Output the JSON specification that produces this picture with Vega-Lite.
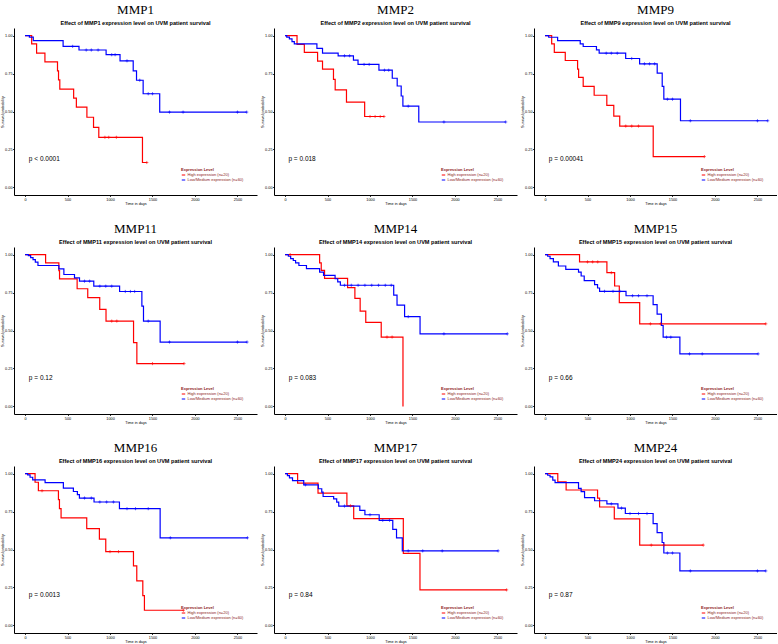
{
"$schema": "https://vega.github.io/schema/vega-lite/v6.json",
"padding": {"left": 0, "top": 4, "right": 0, "bottom": 0},
"background": "white",
"data": {"values": [
{"g":"MMP1","k":"c","e":"H","t":0,"s":1},{"g":"MMP1","k":"c","e":"H","t":78,"s":0.945},{"g":"MMP1","k":"c","e":"H","t":136,"s":0.885},{"g":"MMP1","k":"c","e":"H","t":234,"s":0.827},{"g":"MMP1","k":"c","e":"H","t":382,"s":0.768},{"g":"MMP1","k":"c","e":"H","t":394,"s":0.708},{"g":"MMP1","k":"c","e":"H","t":409,"s":0.648},{"g":"MMP1","k":"c","e":"H","t":572,"s":0.588},{"g":"MMP1","k":"c","e":"H","t":604,"s":0.529},{"g":"MMP1","k":"c","e":"H","t":728,"s":0.462},{"g":"MMP1","k":"c","e":"H","t":806,"s":0.396},{"g":"MMP1","k":"c","e":"H","t":868,"s":0.33},{"g":"MMP1","k":"c","e":"H","t":1382,"s":0.164},{"g":"MMP1","k":"c","e":"H","t":1433,"s":0.164},
{"g":"MMP1","k":"c","e":"L","t":0,"s":1},{"g":"MMP1","k":"c","e":"L","t":51,"s":0.99},{"g":"MMP1","k":"c","e":"L","t":97,"s":0.967},{"g":"MMP1","k":"c","e":"L","t":448,"s":0.929},{"g":"MMP1","k":"c","e":"L","t":635,"s":0.905},{"g":"MMP1","k":"c","e":"L","t":954,"s":0.874},{"g":"MMP1","k":"c","e":"L","t":1118,"s":0.834},{"g":"MMP1","k":"c","e":"L","t":1273,"s":0.768},{"g":"MMP1","k":"c","e":"L","t":1312,"s":0.706},{"g":"MMP1","k":"c","e":"L","t":1390,"s":0.617},{"g":"MMP1","k":"c","e":"L","t":1585,"s":0.496},{"g":"MMP1","k":"c","e":"L","t":2609,"s":0.496},
{"g":"MMP2","k":"c","e":"H","t":0,"s":1},{"g":"MMP2","k":"c","e":"H","t":141,"s":0.942},{"g":"MMP2","k":"c","e":"H","t":227,"s":0.889},{"g":"MMP2","k":"c","e":"H","t":383,"s":0.832},{"g":"MMP2","k":"c","e":"H","t":441,"s":0.779},{"g":"MMP2","k":"c","e":"H","t":570,"s":0.712},{"g":"MMP2","k":"c","e":"H","t":590,"s":0.642},{"g":"MMP2","k":"c","e":"H","t":723,"s":0.562},{"g":"MMP2","k":"c","e":"H","t":937,"s":0.467},{"g":"MMP2","k":"c","e":"H","t":1164,"s":0.467},
{"g":"MMP2","k":"c","e":"L","t":0,"s":1},{"g":"MMP2","k":"c","e":"L","t":20,"s":0.99},{"g":"MMP2","k":"c","e":"L","t":51,"s":0.978},{"g":"MMP2","k":"c","e":"L","t":82,"s":0.96},{"g":"MMP2","k":"c","e":"L","t":109,"s":0.945},{"g":"MMP2","k":"c","e":"L","t":375,"s":0.916},{"g":"MMP2","k":"c","e":"L","t":441,"s":0.885},{"g":"MMP2","k":"c","e":"L","t":625,"s":0.867},{"g":"MMP2","k":"c","e":"L","t":805,"s":0.838},{"g":"MMP2","k":"c","e":"L","t":859,"s":0.81},{"g":"MMP2","k":"c","e":"L","t":1105,"s":0.772},{"g":"MMP2","k":"c","e":"L","t":1262,"s":0.719},{"g":"MMP2","k":"c","e":"L","t":1320,"s":0.668},{"g":"MMP2","k":"c","e":"L","t":1367,"s":0.602},{"g":"MMP2","k":"c","e":"L","t":1387,"s":0.535},{"g":"MMP2","k":"c","e":"L","t":1574,"s":0.431},{"g":"MMP2","k":"c","e":"L","t":2597,"s":0.431},
{"g":"MMP9","k":"c","e":"H","t":0,"s":1},{"g":"MMP9","k":"c","e":"H","t":78,"s":0.945},{"g":"MMP9","k":"c","e":"H","t":109,"s":0.889},{"g":"MMP9","k":"c","e":"H","t":238,"s":0.836},{"g":"MMP9","k":"c","e":"H","t":383,"s":0.779},{"g":"MMP9","k":"c","e":"H","t":395,"s":0.725},{"g":"MMP9","k":"c","e":"H","t":449,"s":0.666},{"g":"MMP9","k":"c","e":"H","t":578,"s":0.607},{"g":"MMP9","k":"c","e":"H","t":727,"s":0.541},{"g":"MMP9","k":"c","e":"H","t":809,"s":0.469},{"g":"MMP9","k":"c","e":"H","t":879,"s":0.404},{"g":"MMP9","k":"c","e":"H","t":1273,"s":0.203},{"g":"MMP9","k":"c","e":"H","t":1875,"s":0.203},
{"g":"MMP9","k":"c","e":"L","t":0,"s":1},{"g":"MMP9","k":"c","e":"L","t":43,"s":0.989},{"g":"MMP9","k":"c","e":"L","t":148,"s":0.967},{"g":"MMP9","k":"c","e":"L","t":414,"s":0.945},{"g":"MMP9","k":"c","e":"L","t":449,"s":0.928},{"g":"MMP9","k":"c","e":"L","t":605,"s":0.906},{"g":"MMP9","k":"c","e":"L","t":637,"s":0.884},{"g":"MMP9","k":"c","e":"L","t":949,"s":0.849},{"g":"MMP9","k":"c","e":"L","t":1113,"s":0.814},{"g":"MMP9","k":"c","e":"L","t":1320,"s":0.753},{"g":"MMP9","k":"c","e":"L","t":1379,"s":0.666},{"g":"MMP9","k":"c","e":"L","t":1398,"s":0.581},{"g":"MMP9","k":"c","e":"L","t":1594,"s":0.439},{"g":"MMP9","k":"c","e":"L","t":2621,"s":0.439},
{"g":"MMP11","k":"c","e":"H","t":0,"s":1},{"g":"MMP11","k":"c","e":"H","t":242,"s":0.945},{"g":"MMP11","k":"c","e":"H","t":398,"s":0.895},{"g":"MMP11","k":"c","e":"H","t":406,"s":0.84},{"g":"MMP11","k":"c","e":"H","t":613,"s":0.775},{"g":"MMP11","k":"c","e":"H","t":738,"s":0.716},{"g":"MMP11","k":"c","e":"H","t":879,"s":0.639},{"g":"MMP11","k":"c","e":"H","t":953,"s":0.562},{"g":"MMP11","k":"c","e":"H","t":1277,"s":0.42},{"g":"MMP11","k":"c","e":"H","t":1316,"s":0.282},{"g":"MMP11","k":"c","e":"H","t":1871,"s":0.282},
{"g":"MMP11","k":"c","e":"L","t":0,"s":1},{"g":"MMP11","k":"c","e":"L","t":39,"s":0.993},{"g":"MMP11","k":"c","e":"L","t":66,"s":0.98},{"g":"MMP11","k":"c","e":"L","t":94,"s":0.967},{"g":"MMP11","k":"c","e":"L","t":121,"s":0.95},{"g":"MMP11","k":"c","e":"L","t":152,"s":0.928},{"g":"MMP11","k":"c","e":"L","t":398,"s":0.906},{"g":"MMP11","k":"c","e":"L","t":457,"s":0.869},{"g":"MMP11","k":"c","e":"L","t":582,"s":0.847},{"g":"MMP11","k":"c","e":"L","t":641,"s":0.825},{"g":"MMP11","k":"c","e":"L","t":809,"s":0.792},{"g":"MMP11","k":"c","e":"L","t":1113,"s":0.757},{"g":"MMP11","k":"c","e":"L","t":1375,"s":0.661},{"g":"MMP11","k":"c","e":"L","t":1394,"s":0.562},{"g":"MMP11","k":"c","e":"L","t":1590,"s":0.424},{"g":"MMP11","k":"c","e":"L","t":2613,"s":0.424},
{"g":"MMP14","k":"c","e":"H","t":0,"s":1},{"g":"MMP14","k":"c","e":"H","t":407,"s":0.946},{"g":"MMP14","k":"c","e":"H","t":426,"s":0.896},{"g":"MMP14","k":"c","e":"H","t":465,"s":0.843},{"g":"MMP14","k":"c","e":"H","t":736,"s":0.783},{"g":"MMP14","k":"c","e":"H","t":822,"s":0.711},{"g":"MMP14","k":"c","e":"H","t":884,"s":0.628},{"g":"MMP14","k":"c","e":"H","t":950,"s":0.554},{"g":"MMP14","k":"c","e":"H","t":1132,"s":0.457},{"g":"MMP14","k":"c","e":"H","t":1388,"s":0},
{"g":"MMP14","k":"c","e":"L","t":0,"s":1},{"g":"MMP14","k":"c","e":"L","t":39,"s":0.989},{"g":"MMP14","k":"c","e":"L","t":66,"s":0.974},{"g":"MMP14","k":"c","e":"L","t":97,"s":0.961},{"g":"MMP14","k":"c","e":"L","t":124,"s":0.946},{"g":"MMP14","k":"c","e":"L","t":163,"s":0.928},{"g":"MMP14","k":"c","e":"L","t":252,"s":0.907},{"g":"MMP14","k":"c","e":"L","t":407,"s":0.885},{"g":"MMP14","k":"c","e":"L","t":453,"s":0.863},{"g":"MMP14","k":"c","e":"L","t":589,"s":0.841},{"g":"MMP14","k":"c","e":"L","t":620,"s":0.82},{"g":"MMP14","k":"c","e":"L","t":651,"s":0.798},{"g":"MMP14","k":"c","e":"L","t":1279,"s":0.733},{"g":"MMP14","k":"c","e":"L","t":1318,"s":0.667},{"g":"MMP14","k":"c","e":"L","t":1407,"s":0.591},{"g":"MMP14","k":"c","e":"L","t":1589,"s":0.478},{"g":"MMP14","k":"c","e":"L","t":2616,"s":0.478},
{"g":"MMP15","k":"c","e":"H","t":0,"s":1},{"g":"MMP15","k":"c","e":"H","t":406,"s":0.952},{"g":"MMP15","k":"c","e":"H","t":728,"s":0.881},{"g":"MMP15","k":"c","e":"H","t":819,"s":0.793},{"g":"MMP15","k":"c","e":"H","t":874,"s":0.683},{"g":"MMP15","k":"c","e":"H","t":1114,"s":0.544},{"g":"MMP15","k":"c","e":"H","t":2598,"s":0.544},
{"g":"MMP15","k":"c","e":"L","t":0,"s":1},{"g":"MMP15","k":"c","e":"L","t":31,"s":0.989},{"g":"MMP15","k":"c","e":"L","t":59,"s":0.974},{"g":"MMP15","k":"c","e":"L","t":98,"s":0.952},{"g":"MMP15","k":"c","e":"L","t":157,"s":0.925},{"g":"MMP15","k":"c","e":"L","t":244,"s":0.903},{"g":"MMP15","k":"c","e":"L","t":394,"s":0.885},{"g":"MMP15","k":"c","e":"L","t":425,"s":0.859},{"g":"MMP15","k":"c","e":"L","t":461,"s":0.828},{"g":"MMP15","k":"c","e":"L","t":583,"s":0.802},{"g":"MMP15","k":"c","e":"L","t":618,"s":0.78},{"g":"MMP15","k":"c","e":"L","t":642,"s":0.758},{"g":"MMP15","k":"c","e":"L","t":953,"s":0.729},{"g":"MMP15","k":"c","e":"L","t":1272,"s":0.67},{"g":"MMP15","k":"c","e":"L","t":1319,"s":0.608},{"g":"MMP15","k":"c","e":"L","t":1370,"s":0.533},{"g":"MMP15","k":"c","e":"L","t":1390,"s":0.456},{"g":"MMP15","k":"c","e":"L","t":1587,"s":0.346},{"g":"MMP15","k":"c","e":"L","t":2508,"s":0.346},
{"g":"MMP16","k":"c","e":"H","t":0,"s":1},{"g":"MMP16","k":"c","e":"H","t":118,"s":0.943},{"g":"MMP16","k":"c","e":"H","t":157,"s":0.887},{"g":"MMP16","k":"c","e":"H","t":393,"s":0.828},{"g":"MMP16","k":"c","e":"H","t":405,"s":0.769},{"g":"MMP16","k":"c","e":"H","t":424,"s":0.708},{"g":"MMP16","k":"c","e":"H","t":726,"s":0.638},{"g":"MMP16","k":"c","e":"H","t":875,"s":0.569},{"g":"MMP16","k":"c","e":"H","t":950,"s":0.486},{"g":"MMP16","k":"c","e":"H","t":1276,"s":0.392},{"g":"MMP16","k":"c","e":"H","t":1315,"s":0.294},{"g":"MMP16","k":"c","e":"H","t":1386,"s":0.196},{"g":"MMP16","k":"c","e":"H","t":1405,"s":0.1},{"g":"MMP16","k":"c","e":"H","t":1864,"s":0.1},
{"g":"MMP16","k":"c","e":"L","t":0,"s":1},{"g":"MMP16","k":"c","e":"L","t":31,"s":0.991},{"g":"MMP16","k":"c","e":"L","t":59,"s":0.976},{"g":"MMP16","k":"c","e":"L","t":90,"s":0.959},{"g":"MMP16","k":"c","e":"L","t":236,"s":0.941},{"g":"MMP16","k":"c","e":"L","t":451,"s":0.904},{"g":"MMP16","k":"c","e":"L","t":569,"s":0.882},{"g":"MMP16","k":"c","e":"L","t":616,"s":0.861},{"g":"MMP16","k":"c","e":"L","t":640,"s":0.839},{"g":"MMP16","k":"c","e":"L","t":812,"s":0.813},{"g":"MMP16","k":"c","e":"L","t":1111,"s":0.769},{"g":"MMP16","k":"c","e":"L","t":1590,"s":0.577},{"g":"MMP16","k":"c","e":"L","t":2618,"s":0.577},
{"g":"MMP17","k":"c","e":"H","t":0,"s":1},{"g":"MMP17","k":"c","e":"H","t":148,"s":0.937},{"g":"MMP17","k":"c","e":"H","t":388,"s":0.871},{"g":"MMP17","k":"c","e":"H","t":728,"s":0.788},{"g":"MMP17","k":"c","e":"H","t":808,"s":0.703},{"g":"MMP17","k":"c","e":"H","t":1392,"s":0.474},{"g":"MMP17","k":"c","e":"H","t":1588,"s":0.234},{"g":"MMP17","k":"c","e":"H","t":2608,"s":0.234},
{"g":"MMP17","k":"c","e":"L","t":0,"s":1},{"g":"MMP17","k":"c","e":"L","t":28,"s":0.987},{"g":"MMP17","k":"c","e":"L","t":52,"s":0.972},{"g":"MMP17","k":"c","e":"L","t":88,"s":0.954},{"g":"MMP17","k":"c","e":"L","t":220,"s":0.926},{"g":"MMP17","k":"c","e":"L","t":392,"s":0.9},{"g":"MMP17","k":"c","e":"L","t":432,"s":0.878},{"g":"MMP17","k":"c","e":"L","t":448,"s":0.849},{"g":"MMP17","k":"c","e":"L","t":572,"s":0.834},{"g":"MMP17","k":"c","e":"L","t":608,"s":0.812},{"g":"MMP17","k":"c","e":"L","t":632,"s":0.786},{"g":"MMP17","k":"c","e":"L","t":880,"s":0.758},{"g":"MMP17","k":"c","e":"L","t":940,"s":0.729},{"g":"MMP17","k":"c","e":"L","t":1108,"s":0.692},{"g":"MMP17","k":"c","e":"L","t":1268,"s":0.633},{"g":"MMP17","k":"c","e":"L","t":1312,"s":0.576},{"g":"MMP17","k":"c","e":"L","t":1380,"s":0.491},{"g":"MMP17","k":"c","e":"L","t":2508,"s":0.491},
{"g":"MMP24","k":"c","e":"H","t":0,"s":1},{"g":"MMP24","k":"c","e":"H","t":150,"s":0.946},{"g":"MMP24","k":"c","e":"H","t":248,"s":0.892},{"g":"MMP24","k":"c","e":"H","t":618,"s":0.838},{"g":"MMP24","k":"c","e":"H","t":642,"s":0.78},{"g":"MMP24","k":"c","e":"H","t":815,"s":0.702},{"g":"MMP24","k":"c","e":"H","t":1114,"s":0.529},{"g":"MMP24","k":"c","e":"H","t":1862,"s":0.529},
{"g":"MMP24","k":"c","e":"L","t":0,"s":1},{"g":"MMP24","k":"c","e":"L","t":31,"s":0.989},{"g":"MMP24","k":"c","e":"L","t":59,"s":0.978},{"g":"MMP24","k":"c","e":"L","t":91,"s":0.957},{"g":"MMP24","k":"c","e":"L","t":118,"s":0.94},{"g":"MMP24","k":"c","e":"L","t":394,"s":0.903},{"g":"MMP24","k":"c","e":"L","t":425,"s":0.881},{"g":"MMP24","k":"c","e":"L","t":465,"s":0.842},{"g":"MMP24","k":"c","e":"L","t":583,"s":0.821},{"g":"MMP24","k":"c","e":"L","t":728,"s":0.801},{"g":"MMP24","k":"c","e":"L","t":858,"s":0.773},{"g":"MMP24","k":"c","e":"L","t":945,"s":0.737},{"g":"MMP24","k":"c","e":"L","t":1272,"s":0.67},{"g":"MMP24","k":"c","e":"L","t":1319,"s":0.611},{"g":"MMP24","k":"c","e":"L","t":1378,"s":0.546},{"g":"MMP24","k":"c","e":"L","t":1398,"s":0.477},{"g":"MMP24","k":"c","e":"L","t":1587,"s":0.359},{"g":"MMP24","k":"c","e":"L","t":2598,"s":0.359},
{"g":"MMP1","k":"x","e":"H","t":940,"s":0.33},{"g":"MMP1","k":"x","e":"H","t":985,"s":0.33},{"g":"MMP1","k":"x","e":"H","t":1075,"s":0.33},{"g":"MMP1","k":"x","e":"H","t":1433,"s":0.164},
{"g":"MMP1","k":"x","e":"L","t":560,"s":0.929},{"g":"MMP1","k":"x","e":"L","t":720,"s":0.905},{"g":"MMP1","k":"x","e":"L","t":780,"s":0.905},{"g":"MMP1","k":"x","e":"L","t":860,"s":0.905},{"g":"MMP1","k":"x","e":"L","t":1020,"s":0.874},{"g":"MMP1","k":"x","e":"L","t":1060,"s":0.874},{"g":"MMP1","k":"x","e":"L","t":1200,"s":0.834},{"g":"MMP1","k":"x","e":"L","t":1350,"s":0.706},{"g":"MMP1","k":"x","e":"L","t":1450,"s":0.617},{"g":"MMP1","k":"x","e":"L","t":1500,"s":0.617},{"g":"MMP1","k":"x","e":"L","t":1700,"s":0.496},{"g":"MMP1","k":"x","e":"L","t":1860,"s":0.496},{"g":"MMP1","k":"x","e":"L","t":2500,"s":0.496},{"g":"MMP1","k":"x","e":"L","t":2609,"s":0.496},
{"g":"MMP2","k":"x","e":"H","t":1000,"s":0.467},{"g":"MMP2","k":"x","e":"H","t":1060,"s":0.467},{"g":"MMP2","k":"x","e":"H","t":1120,"s":0.467},{"g":"MMP2","k":"x","e":"H","t":1164,"s":0.467},
{"g":"MMP2","k":"x","e":"L","t":700,"s":0.867},{"g":"MMP2","k":"x","e":"L","t":760,"s":0.867},{"g":"MMP2","k":"x","e":"L","t":930,"s":0.81},{"g":"MMP2","k":"x","e":"L","t":990,"s":0.81},{"g":"MMP2","k":"x","e":"L","t":1170,"s":0.772},{"g":"MMP2","k":"x","e":"L","t":1220,"s":0.772},{"g":"MMP2","k":"x","e":"L","t":1450,"s":0.535},{"g":"MMP2","k":"x","e":"L","t":1870,"s":0.431},{"g":"MMP2","k":"x","e":"L","t":2597,"s":0.431},
{"g":"MMP9","k":"x","e":"H","t":950,"s":0.404},{"g":"MMP9","k":"x","e":"H","t":1020,"s":0.404},{"g":"MMP9","k":"x","e":"H","t":1100,"s":0.404},{"g":"MMP9","k":"x","e":"H","t":1875,"s":0.203},
{"g":"MMP9","k":"x","e":"L","t":720,"s":0.884},{"g":"MMP9","k":"x","e":"L","t":780,"s":0.884},{"g":"MMP9","k":"x","e":"L","t":850,"s":0.884},{"g":"MMP9","k":"x","e":"L","t":1020,"s":0.849},{"g":"MMP9","k":"x","e":"L","t":1170,"s":0.814},{"g":"MMP9","k":"x","e":"L","t":1230,"s":0.814},{"g":"MMP9","k":"x","e":"L","t":1290,"s":0.814},{"g":"MMP9","k":"x","e":"L","t":1440,"s":0.581},{"g":"MMP9","k":"x","e":"L","t":1500,"s":0.581},{"g":"MMP9","k":"x","e":"L","t":1710,"s":0.439},{"g":"MMP9","k":"x","e":"L","t":2500,"s":0.439},{"g":"MMP9","k":"x","e":"L","t":2621,"s":0.439},
{"g":"MMP11","k":"x","e":"H","t":1020,"s":0.562},{"g":"MMP11","k":"x","e":"H","t":1080,"s":0.562},{"g":"MMP11","k":"x","e":"H","t":1500,"s":0.282},{"g":"MMP11","k":"x","e":"H","t":1871,"s":0.282},
{"g":"MMP11","k":"x","e":"L","t":700,"s":0.825},{"g":"MMP11","k":"x","e":"L","t":760,"s":0.825},{"g":"MMP11","k":"x","e":"L","t":880,"s":0.792},{"g":"MMP11","k":"x","e":"L","t":950,"s":0.792},{"g":"MMP11","k":"x","e":"L","t":1020,"s":0.792},{"g":"MMP11","k":"x","e":"L","t":1180,"s":0.757},{"g":"MMP11","k":"x","e":"L","t":1240,"s":0.757},{"g":"MMP11","k":"x","e":"L","t":1290,"s":0.757},{"g":"MMP11","k":"x","e":"L","t":1450,"s":0.562},{"g":"MMP11","k":"x","e":"L","t":1700,"s":0.424},{"g":"MMP11","k":"x","e":"L","t":2500,"s":0.424},{"g":"MMP11","k":"x","e":"L","t":2613,"s":0.424},
{"g":"MMP14","k":"x","e":"H","t":60,"s":1},{"g":"MMP14","k":"x","e":"H","t":1200,"s":0.457},{"g":"MMP14","k":"x","e":"H","t":1260,"s":0.457},
{"g":"MMP14","k":"x","e":"L","t":700,"s":0.798},{"g":"MMP14","k":"x","e":"L","t":780,"s":0.798},{"g":"MMP14","k":"x","e":"L","t":860,"s":0.798},{"g":"MMP14","k":"x","e":"L","t":940,"s":0.798},{"g":"MMP14","k":"x","e":"L","t":1020,"s":0.798},{"g":"MMP14","k":"x","e":"L","t":1100,"s":0.798},{"g":"MMP14","k":"x","e":"L","t":1180,"s":0.798},{"g":"MMP14","k":"x","e":"L","t":1250,"s":0.798},{"g":"MMP14","k":"x","e":"L","t":1450,"s":0.591},{"g":"MMP14","k":"x","e":"L","t":1870,"s":0.478},{"g":"MMP14","k":"x","e":"L","t":2616,"s":0.478},
{"g":"MMP15","k":"x","e":"H","t":500,"s":0.952},{"g":"MMP15","k":"x","e":"H","t":560,"s":0.952},{"g":"MMP15","k":"x","e":"H","t":620,"s":0.952},{"g":"MMP15","k":"x","e":"H","t":780,"s":0.881},{"g":"MMP15","k":"x","e":"H","t":1240,"s":0.544},{"g":"MMP15","k":"x","e":"H","t":1360,"s":0.544},{"g":"MMP15","k":"x","e":"H","t":2598,"s":0.544},
{"g":"MMP15","k":"x","e":"L","t":700,"s":0.758},{"g":"MMP15","k":"x","e":"L","t":800,"s":0.758},{"g":"MMP15","k":"x","e":"L","t":880,"s":0.758},{"g":"MMP15","k":"x","e":"L","t":1030,"s":0.729},{"g":"MMP15","k":"x","e":"L","t":1100,"s":0.729},{"g":"MMP15","k":"x","e":"L","t":1200,"s":0.729},{"g":"MMP15","k":"x","e":"L","t":1430,"s":0.456},{"g":"MMP15","k":"x","e":"L","t":1480,"s":0.456},{"g":"MMP15","k":"x","e":"L","t":1700,"s":0.346},{"g":"MMP15","k":"x","e":"L","t":1850,"s":0.346},{"g":"MMP15","k":"x","e":"L","t":2508,"s":0.346},
{"g":"MMP16","k":"x","e":"H","t":200,"s":0.887},{"g":"MMP16","k":"x","e":"H","t":1000,"s":0.486},{"g":"MMP16","k":"x","e":"H","t":1100,"s":0.486},{"g":"MMP16","k":"x","e":"H","t":1864,"s":0.1},
{"g":"MMP16","k":"x","e":"L","t":700,"s":0.839},{"g":"MMP16","k":"x","e":"L","t":780,"s":0.839},{"g":"MMP16","k":"x","e":"L","t":880,"s":0.813},{"g":"MMP16","k":"x","e":"L","t":960,"s":0.813},{"g":"MMP16","k":"x","e":"L","t":1040,"s":0.813},{"g":"MMP16","k":"x","e":"L","t":1200,"s":0.769},{"g":"MMP16","k":"x","e":"L","t":1300,"s":0.769},{"g":"MMP16","k":"x","e":"L","t":1450,"s":0.769},{"g":"MMP16","k":"x","e":"L","t":1710,"s":0.577},{"g":"MMP16","k":"x","e":"L","t":2618,"s":0.577},
{"g":"MMP17","k":"x","e":"H","t":770,"s":0.788},{"g":"MMP17","k":"x","e":"H","t":2608,"s":0.234},
{"g":"MMP17","k":"x","e":"L","t":240,"s":0.926},{"g":"MMP17","k":"x","e":"L","t":700,"s":0.786},{"g":"MMP17","k":"x","e":"L","t":1000,"s":0.729},{"g":"MMP17","k":"x","e":"L","t":1150,"s":0.692},{"g":"MMP17","k":"x","e":"L","t":1230,"s":0.692},{"g":"MMP17","k":"x","e":"L","t":1450,"s":0.491},{"g":"MMP17","k":"x","e":"L","t":1620,"s":0.491},{"g":"MMP17","k":"x","e":"L","t":1850,"s":0.491},{"g":"MMP17","k":"x","e":"L","t":2508,"s":0.491},
{"g":"MMP24","k":"x","e":"H","t":1250,"s":0.529},{"g":"MMP24","k":"x","e":"H","t":1400,"s":0.529},{"g":"MMP24","k":"x","e":"H","t":1862,"s":0.529},
{"g":"MMP24","k":"x","e":"L","t":780,"s":0.801},{"g":"MMP24","k":"x","e":"L","t":900,"s":0.773},{"g":"MMP24","k":"x","e":"L","t":1000,"s":0.737},{"g":"MMP24","k":"x","e":"L","t":1100,"s":0.737},{"g":"MMP24","k":"x","e":"L","t":1200,"s":0.737},{"g":"MMP24","k":"x","e":"L","t":1440,"s":0.477},{"g":"MMP24","k":"x","e":"L","t":1500,"s":0.477},{"g":"MMP24","k":"x","e":"L","t":1710,"s":0.359},{"g":"MMP24","k":"x","e":"L","t":2500,"s":0.359},{"g":"MMP24","k":"x","e":"L","t":2598,"s":0.359},
{"g":"MMP1","k":"p","t":45,"s":0.19,"lab":"p < 0.0001"},
{"g":"MMP2","k":"p","t":40,"s":0.19,"lab":"p = 0.018"},
{"g":"MMP9","k":"p","t":45,"s":0.19,"lab":"p = 0.00041"},
{"g":"MMP11","k":"p","t":45,"s":0.19,"lab":"p = 0.12"},
{"g":"MMP14","k":"p","t":45,"s":0.19,"lab":"p = 0.083"},
{"g":"MMP15","k":"p","t":45,"s":0.19,"lab":"p = 0.66"},
{"g":"MMP16","k":"p","t":45,"s":0.2,"lab":"p = 0.0013"},
{"g":"MMP17","k":"p","t":45,"s":0.2,"lab":"p = 0.84"},
{"g":"MMP24","k":"p","t":45,"s":0.2,"lab":"p = 0.87"}
]},
"columns": 3,
"spacing": {"row": 17, "column": 3},
"resolve": {"scale": {"color": "independent"}, "legend": {"color": "independent"}},
"concat": [
{"title": {"text": "MMP1", "subtitle": "Effect of MMP1 expression level on UVM patient survival                              "}, "width": 243, "height": 167, "transform": [{"filter": "datum.g == 'MMP1'"}],
 "encoding": {"x": {"field": "t", "type": "quantitative", "scale": {"domain": [-130, 2730], "nice": false, "zero": false}, "axis": {"title": "Time in days", "values": [0, 500, 1000, 1500, 2000, 2500], "format": "d"}}, "y": {"field": "s", "type": "quantitative", "scale": {"domain": [-0.05, 1.05], "nice": false, "zero": false}, "axis": {"title": "Survival probability", "values": [0, 0.25, 0.5, 0.75, 1], "format": ".2f"}}},
 "layer": [
  {"transform": [{"filter": "datum.k == 'c'"}], "mark": {"type": "line", "interpolate": "step-after", "strokeWidth": 1.2}, "encoding": {"color": {"field": "e", "type": "nominal", "scale": {"domain": ["H", "L"], "range": ["#FF0000", "#0000FF"]}, "legend": {"title": "Expression Level", "labelExpr": "datum.value == 'H' ? 'High expression (n=20)' : 'Low/Medium expression (n=60)'"}}}},
  {"transform": [{"filter": "datum.k == 'x'"}], "mark": {"type": "point", "shape": "M-1,0H1M0,-1V1", "filled": false, "size": 10, "strokeWidth": 0.6, "opacity": 1}, "encoding": {"color": {"field": "e", "type": "nominal", "scale": {"domain": ["H", "L"], "range": ["#FF0000", "#0000FF"]}, "legend": null}}},
  {"transform": [{"filter": "datum.k == 'p'"}], "mark": {"type": "text", "align": "left", "baseline": "middle", "fontSize": 6.5, "color": "#000"}, "encoding": {"text": {"field": "lab"}}}
 ]},
{"title": {"text": "MMP2", "subtitle": "Effect of MMP2 expression level on UVM patient survival                              "}, "width": 243, "height": 167, "transform": [{"filter": "datum.g == 'MMP2'"}],
 "encoding": {"x": {"field": "t", "type": "quantitative", "scale": {"domain": [-130, 2730], "nice": false, "zero": false}, "axis": {"title": "Time in days", "values": [0, 500, 1000, 1500, 2000, 2500], "format": "d"}}, "y": {"field": "s", "type": "quantitative", "scale": {"domain": [-0.05, 1.05], "nice": false, "zero": false}, "axis": {"title": "Survival probability", "values": [0, 0.25, 0.5, 0.75, 1], "format": ".2f"}}},
 "layer": [
  {"transform": [{"filter": "datum.k == 'c'"}], "mark": {"type": "line", "interpolate": "step-after", "strokeWidth": 1.2}, "encoding": {"color": {"field": "e", "type": "nominal", "scale": {"domain": ["H", "L"], "range": ["#FF0000", "#0000FF"]}, "legend": {"title": "Expression Level", "labelExpr": "datum.value == 'H' ? 'High expression (n=20)' : 'Low/Medium expression (n=60)'"}}}},
  {"transform": [{"filter": "datum.k == 'x'"}], "mark": {"type": "point", "shape": "M-1,0H1M0,-1V1", "filled": false, "size": 10, "strokeWidth": 0.6, "opacity": 1}, "encoding": {"color": {"field": "e", "type": "nominal", "scale": {"domain": ["H", "L"], "range": ["#FF0000", "#0000FF"]}, "legend": null}}},
  {"transform": [{"filter": "datum.k == 'p'"}], "mark": {"type": "text", "align": "left", "baseline": "middle", "fontSize": 6.5, "color": "#000"}, "encoding": {"text": {"field": "lab"}}}
 ]},
{"title": {"text": "MMP9", "subtitle": "Effect of MMP9 expression level on UVM patient survival                              "}, "width": 243, "height": 167, "transform": [{"filter": "datum.g == 'MMP9'"}],
 "encoding": {"x": {"field": "t", "type": "quantitative", "scale": {"domain": [-130, 2730], "nice": false, "zero": false}, "axis": {"title": "Time in days", "values": [0, 500, 1000, 1500, 2000, 2500], "format": "d"}}, "y": {"field": "s", "type": "quantitative", "scale": {"domain": [-0.05, 1.05], "nice": false, "zero": false}, "axis": {"title": "Survival probability", "values": [0, 0.25, 0.5, 0.75, 1], "format": ".2f"}}},
 "layer": [
  {"transform": [{"filter": "datum.k == 'c'"}], "mark": {"type": "line", "interpolate": "step-after", "strokeWidth": 1.2}, "encoding": {"color": {"field": "e", "type": "nominal", "scale": {"domain": ["H", "L"], "range": ["#FF0000", "#0000FF"]}, "legend": {"title": "Expression Level", "labelExpr": "datum.value == 'H' ? 'High expression (n=20)' : 'Low/Medium expression (n=60)'"}}}},
  {"transform": [{"filter": "datum.k == 'x'"}], "mark": {"type": "point", "shape": "M-1,0H1M0,-1V1", "filled": false, "size": 10, "strokeWidth": 0.6, "opacity": 1}, "encoding": {"color": {"field": "e", "type": "nominal", "scale": {"domain": ["H", "L"], "range": ["#FF0000", "#0000FF"]}, "legend": null}}},
  {"transform": [{"filter": "datum.k == 'p'"}], "mark": {"type": "text", "align": "left", "baseline": "middle", "fontSize": 6.5, "color": "#000"}, "encoding": {"text": {"field": "lab"}}}
 ]},
{"title": {"text": "MMP11", "subtitle": "Effect of MMP11 expression level on UVM patient survival                              "}, "width": 243, "height": 167, "transform": [{"filter": "datum.g == 'MMP11'"}],
 "encoding": {"x": {"field": "t", "type": "quantitative", "scale": {"domain": [-130, 2730], "nice": false, "zero": false}, "axis": {"title": "Time in days", "values": [0, 500, 1000, 1500, 2000, 2500], "format": "d"}}, "y": {"field": "s", "type": "quantitative", "scale": {"domain": [-0.05, 1.05], "nice": false, "zero": false}, "axis": {"title": "Survival probability", "values": [0, 0.25, 0.5, 0.75, 1], "format": ".2f"}}},
 "layer": [
  {"transform": [{"filter": "datum.k == 'c'"}], "mark": {"type": "line", "interpolate": "step-after", "strokeWidth": 1.2}, "encoding": {"color": {"field": "e", "type": "nominal", "scale": {"domain": ["H", "L"], "range": ["#FF0000", "#0000FF"]}, "legend": {"title": "Expression Level", "labelExpr": "datum.value == 'H' ? 'High expression (n=20)' : 'Low/Medium expression (n=60)'"}}}},
  {"transform": [{"filter": "datum.k == 'x'"}], "mark": {"type": "point", "shape": "M-1,0H1M0,-1V1", "filled": false, "size": 10, "strokeWidth": 0.6, "opacity": 1}, "encoding": {"color": {"field": "e", "type": "nominal", "scale": {"domain": ["H", "L"], "range": ["#FF0000", "#0000FF"]}, "legend": null}}},
  {"transform": [{"filter": "datum.k == 'p'"}], "mark": {"type": "text", "align": "left", "baseline": "middle", "fontSize": 6.5, "color": "#000"}, "encoding": {"text": {"field": "lab"}}}
 ]},
{"title": {"text": "MMP14", "subtitle": "Effect of MMP14 expression level on UVM patient survival                              "}, "width": 243, "height": 167, "transform": [{"filter": "datum.g == 'MMP14'"}],
 "encoding": {"x": {"field": "t", "type": "quantitative", "scale": {"domain": [-130, 2730], "nice": false, "zero": false}, "axis": {"title": "Time in days", "values": [0, 500, 1000, 1500, 2000, 2500], "format": "d"}}, "y": {"field": "s", "type": "quantitative", "scale": {"domain": [-0.05, 1.05], "nice": false, "zero": false}, "axis": {"title": "Survival probability", "values": [0, 0.25, 0.5, 0.75, 1], "format": ".2f"}}},
 "layer": [
  {"transform": [{"filter": "datum.k == 'c'"}], "mark": {"type": "line", "interpolate": "step-after", "strokeWidth": 1.2}, "encoding": {"color": {"field": "e", "type": "nominal", "scale": {"domain": ["H", "L"], "range": ["#FF0000", "#0000FF"]}, "legend": {"title": "Expression Level", "labelExpr": "datum.value == 'H' ? 'High expression (n=20)' : 'Low/Medium expression (n=60)'"}}}},
  {"transform": [{"filter": "datum.k == 'x'"}], "mark": {"type": "point", "shape": "M-1,0H1M0,-1V1", "filled": false, "size": 10, "strokeWidth": 0.6, "opacity": 1}, "encoding": {"color": {"field": "e", "type": "nominal", "scale": {"domain": ["H", "L"], "range": ["#FF0000", "#0000FF"]}, "legend": null}}},
  {"transform": [{"filter": "datum.k == 'p'"}], "mark": {"type": "text", "align": "left", "baseline": "middle", "fontSize": 6.5, "color": "#000"}, "encoding": {"text": {"field": "lab"}}}
 ]},
{"title": {"text": "MMP15", "subtitle": "Effect of MMP15 expression level on UVM patient survival                              "}, "width": 243, "height": 167, "transform": [{"filter": "datum.g == 'MMP15'"}],
 "encoding": {"x": {"field": "t", "type": "quantitative", "scale": {"domain": [-130, 2730], "nice": false, "zero": false}, "axis": {"title": "Time in days", "values": [0, 500, 1000, 1500, 2000, 2500], "format": "d"}}, "y": {"field": "s", "type": "quantitative", "scale": {"domain": [-0.05, 1.05], "nice": false, "zero": false}, "axis": {"title": "Survival probability", "values": [0, 0.25, 0.5, 0.75, 1], "format": ".2f"}}},
 "layer": [
  {"transform": [{"filter": "datum.k == 'c'"}], "mark": {"type": "line", "interpolate": "step-after", "strokeWidth": 1.2}, "encoding": {"color": {"field": "e", "type": "nominal", "scale": {"domain": ["H", "L"], "range": ["#FF0000", "#0000FF"]}, "legend": {"title": "Expression Level", "labelExpr": "datum.value == 'H' ? 'High expression (n=20)' : 'Low/Medium expression (n=60)'"}}}},
  {"transform": [{"filter": "datum.k == 'x'"}], "mark": {"type": "point", "shape": "M-1,0H1M0,-1V1", "filled": false, "size": 10, "strokeWidth": 0.6, "opacity": 1}, "encoding": {"color": {"field": "e", "type": "nominal", "scale": {"domain": ["H", "L"], "range": ["#FF0000", "#0000FF"]}, "legend": null}}},
  {"transform": [{"filter": "datum.k == 'p'"}], "mark": {"type": "text", "align": "left", "baseline": "middle", "fontSize": 6.5, "color": "#000"}, "encoding": {"text": {"field": "lab"}}}
 ]},
{"title": {"text": "MMP16", "subtitle": "Effect of MMP16 expression level on UVM patient survival                              "}, "width": 243, "height": 167, "transform": [{"filter": "datum.g == 'MMP16'"}],
 "encoding": {"x": {"field": "t", "type": "quantitative", "scale": {"domain": [-130, 2730], "nice": false, "zero": false}, "axis": {"title": "Time in days", "values": [0, 500, 1000, 1500, 2000, 2500], "format": "d"}}, "y": {"field": "s", "type": "quantitative", "scale": {"domain": [-0.05, 1.05], "nice": false, "zero": false}, "axis": {"title": "Survival probability", "values": [0, 0.25, 0.5, 0.75, 1], "format": ".2f"}}},
 "layer": [
  {"transform": [{"filter": "datum.k == 'c'"}], "mark": {"type": "line", "interpolate": "step-after", "strokeWidth": 1.2}, "encoding": {"color": {"field": "e", "type": "nominal", "scale": {"domain": ["H", "L"], "range": ["#FF0000", "#0000FF"]}, "legend": {"title": "Expression Level", "labelExpr": "datum.value == 'H' ? 'High expression (n=20)' : 'Low/Medium expression (n=60)'"}}}},
  {"transform": [{"filter": "datum.k == 'x'"}], "mark": {"type": "point", "shape": "M-1,0H1M0,-1V1", "filled": false, "size": 10, "strokeWidth": 0.6, "opacity": 1}, "encoding": {"color": {"field": "e", "type": "nominal", "scale": {"domain": ["H", "L"], "range": ["#FF0000", "#0000FF"]}, "legend": null}}},
  {"transform": [{"filter": "datum.k == 'p'"}], "mark": {"type": "text", "align": "left", "baseline": "middle", "fontSize": 6.5, "color": "#000"}, "encoding": {"text": {"field": "lab"}}}
 ]},
{"title": {"text": "MMP17", "subtitle": "Effect of MMP17 expression level on UVM patient survival                              "}, "width": 243, "height": 167, "transform": [{"filter": "datum.g == 'MMP17'"}],
 "encoding": {"x": {"field": "t", "type": "quantitative", "scale": {"domain": [-130, 2730], "nice": false, "zero": false}, "axis": {"title": "Time in days", "values": [0, 500, 1000, 1500, 2000, 2500], "format": "d"}}, "y": {"field": "s", "type": "quantitative", "scale": {"domain": [-0.05, 1.05], "nice": false, "zero": false}, "axis": {"title": "Survival probability", "values": [0, 0.25, 0.5, 0.75, 1], "format": ".2f"}}},
 "layer": [
  {"transform": [{"filter": "datum.k == 'c'"}], "mark": {"type": "line", "interpolate": "step-after", "strokeWidth": 1.2}, "encoding": {"color": {"field": "e", "type": "nominal", "scale": {"domain": ["H", "L"], "range": ["#FF0000", "#0000FF"]}, "legend": {"title": "Expression Level", "labelExpr": "datum.value == 'H' ? 'High expression (n=20)' : 'Low/Medium expression (n=60)'"}}}},
  {"transform": [{"filter": "datum.k == 'x'"}], "mark": {"type": "point", "shape": "M-1,0H1M0,-1V1", "filled": false, "size": 10, "strokeWidth": 0.6, "opacity": 1}, "encoding": {"color": {"field": "e", "type": "nominal", "scale": {"domain": ["H", "L"], "range": ["#FF0000", "#0000FF"]}, "legend": null}}},
  {"transform": [{"filter": "datum.k == 'p'"}], "mark": {"type": "text", "align": "left", "baseline": "middle", "fontSize": 6.5, "color": "#000"}, "encoding": {"text": {"field": "lab"}}}
 ]},
{"title": {"text": "MMP24", "subtitle": "Effect of MMP24 expression level on UVM patient survival                              "}, "width": 243, "height": 167, "transform": [{"filter": "datum.g == 'MMP24'"}],
 "encoding": {"x": {"field": "t", "type": "quantitative", "scale": {"domain": [-130, 2730], "nice": false, "zero": false}, "axis": {"title": "Time in days", "values": [0, 500, 1000, 1500, 2000, 2500], "format": "d"}}, "y": {"field": "s", "type": "quantitative", "scale": {"domain": [-0.05, 1.05], "nice": false, "zero": false}, "axis": {"title": "Survival probability", "values": [0, 0.25, 0.5, 0.75, 1], "format": ".2f"}}},
 "layer": [
  {"transform": [{"filter": "datum.k == 'c'"}], "mark": {"type": "line", "interpolate": "step-after", "strokeWidth": 1.2}, "encoding": {"color": {"field": "e", "type": "nominal", "scale": {"domain": ["H", "L"], "range": ["#FF0000", "#0000FF"]}, "legend": {"title": "Expression Level", "labelExpr": "datum.value == 'H' ? 'High expression (n=20)' : 'Low/Medium expression (n=60)'"}}}},
  {"transform": [{"filter": "datum.k == 'x'"}], "mark": {"type": "point", "shape": "M-1,0H1M0,-1V1", "filled": false, "size": 10, "strokeWidth": 0.6, "opacity": 1}, "encoding": {"color": {"field": "e", "type": "nominal", "scale": {"domain": ["H", "L"], "range": ["#FF0000", "#0000FF"]}, "legend": null}}},
  {"transform": [{"filter": "datum.k == 'p'"}], "mark": {"type": "text", "align": "left", "baseline": "middle", "fontSize": 6.5, "color": "#000"}, "encoding": {"text": {"field": "lab"}}}
 ]}
],
"config": {
 "view": {"stroke": null},
 "font": "Liberation Sans",
 "axis": {"domainColor": "#000", "domainWidth": 1, "tickColor": "#000", "tickSize": 1.5, "tickWidth": 0.8, "labelFont": "Liberation Sans", "labelFontSize": 3.8, "labelColor": "#000", "labelPadding": 0.5, "titleFont": "Liberation Sans", "titleFontSize": 3.8, "titleFontWeight": "normal", "titleColor": "#000", "titlePadding": 1, "grid": false, "minExtent": 0},
 "axisY": {"minExtent": 0, "titlePadding": 0.5},
 "axisX": {"minExtent": 0},
 "title": {"font": "Liberation Serif", "fontSize": 13, "fontWeight": "normal", "color": "#000", "subtitleFont": "Liberation Sans", "subtitleFontSize": 5.6, "subtitleFontWeight": "bold", "subtitleColor": "#000", "subtitlePadding": 4, "offset": 1, "anchor": "middle"},
 "legend": {"orient": "bottom-right", "offset": 13, "padding": 0, "titleFont": "Liberation Sans", "titleFontSize": 4, "titleFontWeight": "bold", "titleColor": "#8B1A1A", "titlePadding": 0.5, "labelFont": "Liberation Sans", "labelFontSize": 4, "labelColor": "#8B1A1A", "labelOffset": 1.5, "symbolSize": 12, "symbolStrokeWidth": 1, "symbolType": "stroke", "rowPadding": 0}
}
}
